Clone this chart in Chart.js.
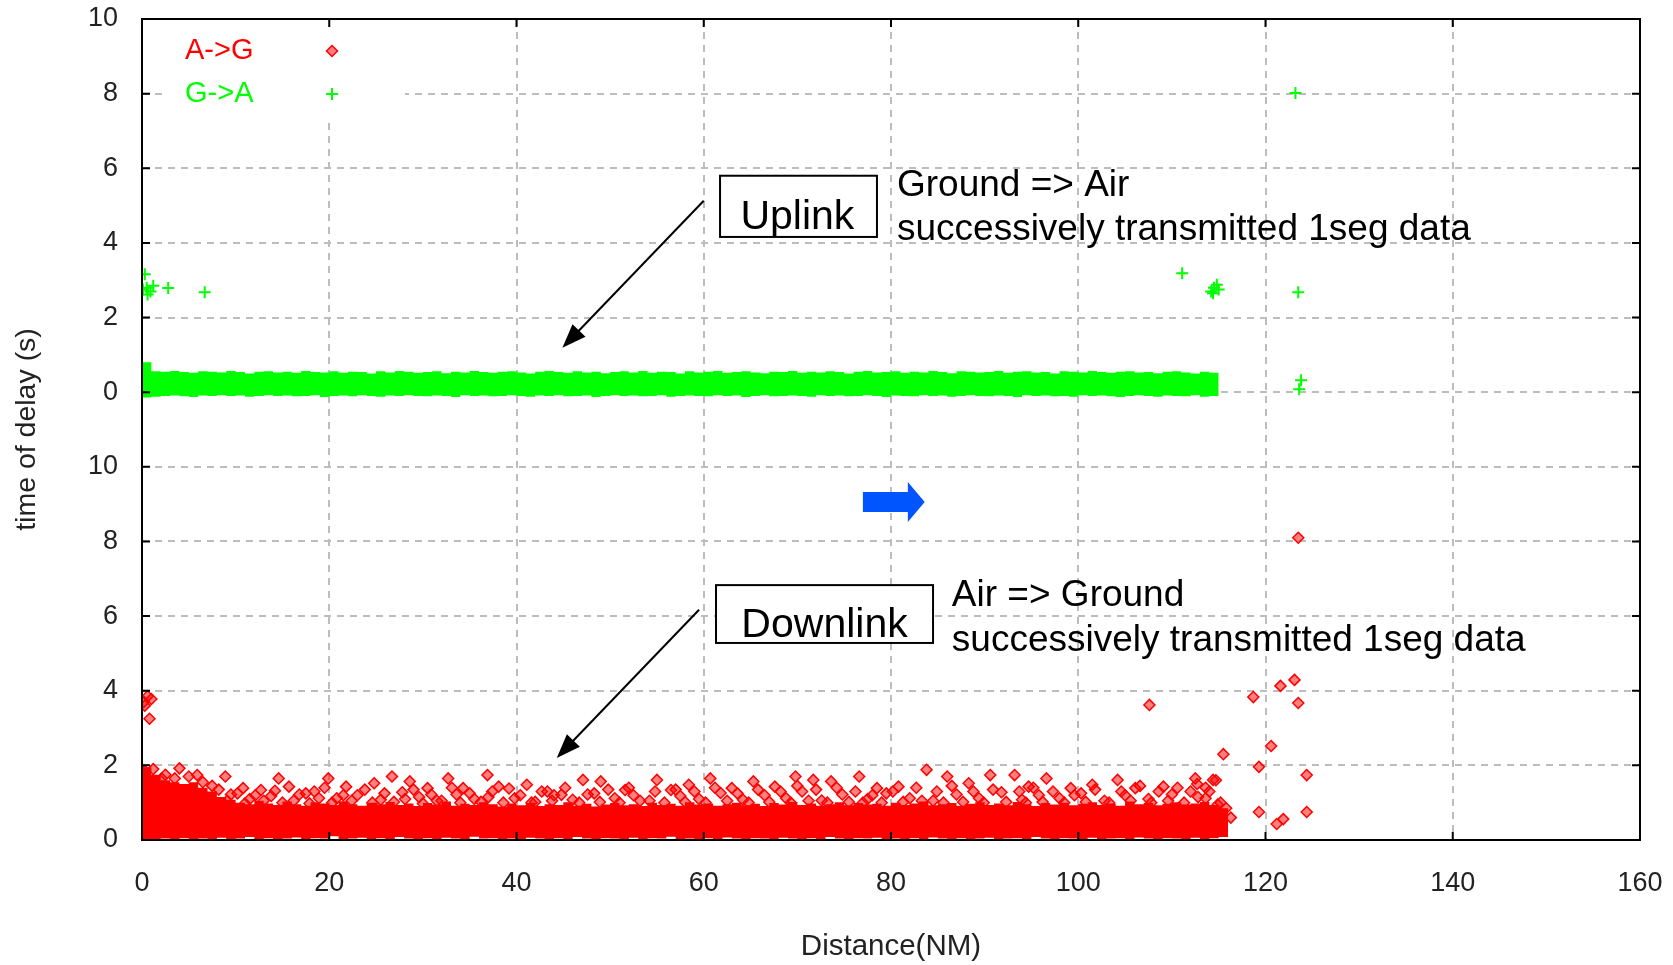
<!DOCTYPE html>
<html lang="en">
<head>
<meta charset="UTF-8">
<title>Delay vs distance</title>
<style>
  body { margin: 0; background: #fff; }
  canvas { display: block; }
</style>
</head>
<body>
<canvas id="delayChart" width="1673" height="965"></canvas>
<script src="https://cdn.jsdelivr.net/npm/chart.js"></script>
<script>
// ---- data ----
// distance samples (NM) used for the envelopes of the two dense clouds
const bandX = [0,1,2,3,4,5,6,7,8,9,10,11,12,13,14,15,16,17,18,19,20,21,22,23,24,25,26,27,28,29,
  30,31,32,33,34,35,36,37,38,39,40,41,42,43,44,45,46,47,48,49,50,51,52,53,54,55,56,57,58,59,
  60,61,62,63,64,65,66,67,68,69,70,71,72,73,74,75,76,77,78,79,80,81,82,83,84,85,86,87,88,89,
  90,91,92,93,94,95,96,97,98,99,100,101,102,103,104,105,106,107,108,109,110,111,112,113,114,115,116];

// G->A (uplink) dense cloud: upper / lower edge, seconds (upper panel)
const gaTop = [0.80,0.56,0.55,0.57,0.54,0.52,0.56,0.55,0.53,0.57,
  0.54,0.50,0.55,0.56,0.53,0.55,0.52,0.57,0.54,0.53,
  0.56,0.52,0.55,0.54,0.50,0.56,0.53,0.57,0.55,0.52,
  0.54,0.56,0.51,0.55,0.53,0.57,0.54,0.52,0.55,0.56,
  0.53,0.50,0.55,0.57,0.54,0.52,0.56,0.53,0.55,0.51,
  0.54,0.56,0.53,0.57,0.52,0.55,0.54,0.50,0.56,0.53,
  0.55,0.57,0.52,0.54,0.56,0.53,0.51,0.55,0.54,0.57,
  0.52,0.55,0.53,0.56,0.54,0.50,0.55,0.57,0.53,0.54,
  0.56,0.52,0.55,0.53,0.57,0.54,0.51,0.56,0.55,0.53,
  0.54,0.57,0.52,0.55,0.56,0.53,0.54,0.50,0.56,0.55,
  0.53,0.57,0.54,0.52,0.55,0.56,0.53,0.54,0.51,0.55,
  0.56,0.53,0.50,0.55,0.52,0.49, null];
const gaBottom = [-0.14,-0.12,-0.10,-0.09,-0.11,-0.13,-0.09,-0.10,-0.08,-0.10,
  -0.09,-0.12,-0.10,-0.08,-0.10,-0.09,-0.11,-0.10,-0.08,-0.13,
  -0.10,-0.09,-0.11,-0.08,-0.10,-0.12,-0.09,-0.10,-0.08,-0.10,
  -0.11,-0.09,-0.10,-0.13,-0.08,-0.10,-0.09,-0.11,-0.10,-0.08,
  -0.10,-0.12,-0.09,-0.10,-0.08,-0.11,-0.10,-0.09,-0.13,-0.10,
  -0.08,-0.10,-0.09,-0.11,-0.10,-0.08,-0.12,-0.10,-0.09,-0.10,
  -0.11,-0.08,-0.10,-0.09,-0.13,-0.10,-0.08,-0.11,-0.10,-0.09,
  -0.10,-0.12,-0.08,-0.10,-0.09,-0.11,-0.10,-0.08,-0.10,-0.13,
  -0.09,-0.10,-0.11,-0.08,-0.10,-0.09,-0.12,-0.10,-0.08,-0.10,
  -0.11,-0.09,-0.10,-0.13,-0.08,-0.10,-0.09,-0.11,-0.10,-0.12,
  -0.08,-0.10,-0.09,-0.11,-0.13,-0.10,-0.08,-0.10,-0.12,-0.09,
  -0.10,-0.11,-0.08,-0.12,-0.10,-0.09, null];

// A->G (downlink) dense cloud: upper / lower edge, seconds (lower panel)
const agTop = [1.95,1.75,1.60,1.55,1.50,1.55,1.40,1.30,1.15,1.08,
  1.00,0.96,1.05,0.98,0.94,1.03,0.96,0.92,1.01,0.98,
  0.94,1.04,0.96,0.92,1.00,0.96,1.02,0.94,0.98,0.91,
  0.99,0.95,1.03,0.92,0.97,0.94,1.01,0.96,0.90,0.98,
  0.93,0.99,0.91,0.96,0.94,1.01,0.92,0.97,0.90,0.95,
  0.99,0.93,0.96,0.91,1.00,0.94,0.97,0.92,1.01,0.95,
  0.98,0.92,0.96,1.00,0.93,0.97,0.91,0.99,0.95,1.02,
  0.94,0.98,0.92,0.96,1.01,0.93,0.99,0.95,0.97,0.92,
  1.00,0.94,0.98,1.03,0.93,0.96,0.99,0.92,0.97,1.01,
  0.94,0.98,0.93,1.02,0.96,0.91,0.99,0.95,1.00,0.93,
  0.97,1.01,0.94,0.98,0.92,1.03,0.96,0.99,0.93,0.97,
  1.01,0.95,0.98,1.02,0.94,0.85,0.68];
const agBottom = [0.03,0.02,0.04,0.03,0.05,0.02,0.04,0.03,0.06,0.03,
  0.04,0.08,0.03,0.05,0.02,0.04,0.07,0.03,0.05,0.04,
  0.10,0.03,0.04,0.06,0.02,0.05,0.03,0.08,0.04,0.03,
  0.05,0.02,0.06,0.04,0.03,0.09,0.04,0.05,0.02,0.04,
  0.03,0.06,0.04,0.02,0.05,0.03,0.08,0.04,0.03,0.05,
  0.04,0.02,0.06,0.03,0.05,0.04,0.09,0.03,0.04,0.02,
  0.05,0.03,0.07,0.04,0.02,0.05,0.04,0.03,0.06,0.04,
  0.03,0.05,0.02,0.08,0.04,0.03,0.05,0.04,0.06,0.03,
  0.04,0.02,0.05,0.03,0.07,0.04,0.03,0.05,0.02,0.04,
  0.06,0.03,0.04,0.05,0.02,0.08,0.04,0.03,0.05,0.04,
  0.03,0.06,0.02,0.04,0.05,0.03,0.07,0.04,0.03,0.05,
  0.04,0.02,0.06,0.03,0.05,0.08,0.12];

// single A->G samples outside the solid part of the cloud [NM, s]
const agPoints = [
  [0.3,1.85],[1.2,1.9],[2.5,1.75],[3.5,1.65],[5,1.7],[6.5,1.55],[7.5,1.45],
  [2.1,1.65],[4.0,1.92],[5.9,1.74],[8.9,1.7],[10.8,1.39],[12.7,1.34],[14.6,1.65],[15.7,1.43],
  [18.4,1.3],[19.9,1.65],[21.8,1.43],[24.8,1.52],[26.7,1.7],[28.6,1.57],[30.5,1.39],[32.7,1.65],
  [34.3,1.39],[36.9,1.74],[38.1,1.43],[41.1,1.48],[43.3,1.3],[44.8,1.21],[47.1,1.61],[49.0,1.57],
  [51.6,1.34],[55.0,1.61],[56.5,1.34],[58.4,1.48],[60.7,1.65],[63.0,1.39],[65.3,1.57],[67.6,1.43],
  [69.8,1.7],[71.7,1.61],[73.6,1.57],[76.6,1.7],[78.5,1.39],[80.8,1.43],[83.8,1.88],[86.0,1.7],
  [88.3,1.52],[90.6,1.74],[93.2,1.74],[94.7,1.43],[96.6,1.65],[99.2,1.39],[101.5,1.48],[104.2,1.61],
  [106.1,1.39],[109.1,1.43],[112.5,1.65],[114.4,1.61],
  [9.5,1.22],[11.5,1.1],[13.8,1.18],[16.2,1.05],[17.5,1.25],[20.8,1.12],[23,1.2],[25.5,1.08],
  [27.8,1.28],[29.6,1.15],[31.5,1.05],[33.6,1.22],[35.5,1.1],[37.4,1.3],[39.8,1.12],[42,1.02],
  [44,1.2],[46,1.08],[48.3,1.25],[50.5,1.12],[52.5,1.2],[54.2,1.05],[57.5,1.18],[59.5,1.1],
  [61.8,1.26],[64.2,1.08],[66.5,1.2],[68.8,1.12],[70.5,1.3],[72.6,1.06],[74.8,1.22],[77.5,1.1],
  [79.5,1.25],[82,1.12],[84.5,1.05],[87,1.22],[89.4,1.12],[91.8,1.28],[94,1.08],[95.8,1.2],
  [98,1.12],[100.3,1.25],[102.8,1.05],[105,1.2],[107.5,1.1],[110,1.22],[112,1.3],[113.6,1.12],[115.2,1.0],
  [8.2,1.35],[9.1,1.05],[10.2,1.25],[11.0,0.98],[12.1,1.2],[13.0,1.05],[14.2,1.32],[15.0,1.0],
  [16.8,1.22],[17.9,0.98],[18.9,1.12],[19.5,1.4],[20.3,1.0],[21.5,1.2],[22.4,1.05],[23.8,1.35],
  [24.6,1.0],[25.9,1.25],[26.9,1.02],[28.1,1.1],[29.0,1.35],[30.0,0.98],[30.9,1.22],[32.0,1.05],
  [33.1,1.4],[34.0,1.0],[35.0,1.25],[36.2,1.02],[37.0,1.15],[38.6,1.0],[39.2,1.38],[40.4,1.2],
  [41.6,1.0],[42.7,1.3],[43.8,1.05],[45.2,1.4],[46.7,1.0],[47.6,1.22],[48.9,1.02],[49.8,1.35],
  [51.0,1.0],[52.0,1.4],[53.2,1.05],[54.8,1.3],[55.8,1.0],[57.0,1.35],[58.0,1.02],[59.0,1.3],
  [60.2,1.0],[61.2,1.4],[62.5,1.05],[63.6,1.25],[64.8,1.0],[65.8,1.35],[67.0,1.02],[68.2,1.3],
  [69.3,1.0],[70.0,1.45],[71.2,1.05],[72.0,1.35],[73.2,1.0],[74.2,1.4],[75.5,1.02],[76.2,1.3],
  [77.0,1.0],[78.0,1.2],[79.0,1.0],[80.2,1.3],[81.3,1.02],[82.7,1.4],[83.3,1.05],[84.9,1.3],
  [85.6,1.0],[86.5,1.45],[87.7,1.02],[88.8,1.3],[89.9,1.0],[90.9,1.35],[92.3,1.02],[93.7,1.3],
  [94.4,1.0],[95.2,1.4],[96.2,1.02],[97.3,1.3],[98.5,1.0],[99.6,1.2],[100.8,1.02],[101.8,1.35],
  [103.3,1.0],[104.6,1.3],[105.6,1.05],[106.6,1.45],[107.8,1.0],[108.6,1.3],[109.6,1.05],[110.6,1.4],
  [111.3,1.0],[112.8,1.15],[114.0,1.3],[114.9,0.95],[115.8,0.85],[116.3,0.6],
  [0.2,3.7],[0.6,3.85],[1.0,3.78],[0.3,3.6],[0.8,3.25],
  [107.6,3.62],[112.7,1.5],[113.6,1.4],[114.7,1.6],[115.5,2.3],[118.7,3.83],[119.3,1.96],
  [120.6,2.52],[119.3,0.75],[121.6,4.13],[123.1,4.29],[123.5,3.67],[124.4,1.74],[124.4,0.75],
  [121.2,0.43],[121.9,0.56],[123.5,8.1]
];

// single G->A samples outside the solid band [NM, s]
const gaPoints = [
  [0.3,3.16],[0.1,2.75],[0.5,2.8],[0.9,2.7],[1.2,2.85],[0.6,2.62],[2.8,2.79],[6.7,2.68],
  [111.1,3.19],[114.2,2.7],[114.5,2.8],[114.8,2.88],[115.0,2.75],[114.4,2.65],
  [123.5,2.68],[123.8,0.32],[123.6,0.08],[123.2,8.02]
];

const seriesNames = ['A->G', 'G->A'];
const seriesColors = ['#ff0000', '#00ff00'];

// the upper panel sits 12 units above the lower one on the shared axis
const panelOffset = 12;

const font = "'Liberation Sans', Arial, sans-serif";

function band(vals) {
  const out = [];
  bandX.forEach((x, i) => { if (vals[i] !== null) out.push({x: x, y: vals[i]}); });
  return out;
}

// annotation layout, in data units (x: NM, y: shared axis units)
const notes = {
  up:   {box: [61.74, 17.80, 78.5, 16.16], label: 'Uplink', lx: 70.0, ly: 16.38,
         arrow: [60.0, 17.13, 44.9, 13.19],
         tx: 80.64, lines: ['Ground => Air', 'successively transmitted 1seg data'], ty: [17.27, 16.07]},
  down: {box: [61.31, 6.83, 84.49, 5.28], label: 'Downlink', lx: 72.9, ly: 5.44,
         arrow: [59.5, 6.17, 44.3, 2.2],
         tx: 86.5, lines: ['Air => Ground', 'successively transmitted 1seg data'], ty: [6.27, 5.07]}
};

function drawArrow(ctx, x1, y1, x2, y2) {
  const a = Math.atan2(y2 - y1, x2 - x1);
  const head = 24, half = 9;
  ctx.beginPath();
  ctx.moveTo(x1, y1);
  ctx.lineTo(x2 - head * 0.8 * Math.cos(a), y2 - head * 0.8 * Math.sin(a));
  ctx.stroke();
  ctx.beginPath();
  ctx.moveTo(x2, y2);
  ctx.lineTo(x2 - head * Math.cos(a) + half * Math.sin(a), y2 - head * Math.sin(a) - half * Math.cos(a));
  ctx.lineTo(x2 - head * Math.cos(a) - half * Math.sin(a), y2 - head * Math.sin(a) + half * Math.cos(a));
  ctx.closePath();
  ctx.fill();
}

const decor = {
  id: 'decor',
  beforeDatasetsDraw(chart) {
    // key area is blanked like gnuplot does
    const {ctx, chartArea} = chart;
    ctx.save();
    ctx.fillStyle = '#fff';
    ctx.fillRect(chartArea.left + 23, chartArea.top + 1, 240, 100);
    ctx.restore();
  },
  afterDraw(chart) {
    const {ctx, chartArea: ca} = chart;
    const sx = chart.scales.x, sy = chart.scales.y;
    const px = v => sx.getPixelForValue(v), py = v => sy.getPixelForValue(v);
    ctx.save();

    // frame and inward ticks
    ctx.strokeStyle = '#000';
    ctx.lineWidth = 2;
    ctx.strokeRect(ca.left, ca.top, ca.right - ca.left, ca.bottom - ca.top);
    ctx.beginPath();
    sx.ticks.forEach(t => {
      const x = px(t.value);
      ctx.moveTo(x, ca.bottom); ctx.lineTo(x, ca.bottom - 8);
      ctx.moveTo(x, ca.top); ctx.lineTo(x, ca.top + 8);
    });
    sy.ticks.forEach(t => {
      const y = py(t.value);
      ctx.moveTo(ca.left, y); ctx.lineTo(ca.left + 8, y);
      ctx.moveTo(ca.right, y); ctx.lineTo(ca.right - 8, y);
    });
    ctx.stroke();

    // key
    ctx.font = '29px ' + font;
    ctx.textBaseline = 'middle';
    ctx.textAlign = 'left';
    const keyY = [51, 94];
    seriesNames.forEach((name, i) => {
      ctx.fillStyle = seriesColors[i];
      ctx.fillText(name, ca.left + 43, keyY[i]);
    });
    const kx = ca.left + 190;
    ctx.fillStyle = 'rgba(255,0,0,0.5)';
    ctx.strokeStyle = '#ff0000';
    ctx.lineWidth = 1.5;
    ctx.beginPath();
    ctx.moveTo(kx - 5.5, keyY[0]); ctx.lineTo(kx, keyY[0] - 5.5);
    ctx.lineTo(kx + 5.5, keyY[0]); ctx.lineTo(kx, keyY[0] + 5.5);
    ctx.closePath(); ctx.fill(); ctx.stroke();
    ctx.strokeStyle = '#00ff00';
    ctx.lineWidth = 2;
    ctx.beginPath();
    ctx.moveTo(kx - 6, keyY[1]); ctx.lineTo(kx + 6, keyY[1]);
    ctx.moveTo(kx, keyY[1] - 6); ctx.lineTo(kx, keyY[1] + 6);
    ctx.stroke();

    // labelled boxes, arrows and captions
    Object.values(notes).forEach(n => {
      const [bx1, by1, bx2, by2] = n.box;
      ctx.fillStyle = '#fff';
      ctx.fillRect(px(bx1), py(by1), px(bx2) - px(bx1), py(by2) - py(by1));
      ctx.strokeStyle = '#000';
      ctx.lineWidth = 2;
      ctx.strokeRect(px(bx1), py(by1), px(bx2) - px(bx1), py(by2) - py(by1));
      ctx.fillStyle = '#000';
      ctx.font = '41px ' + font;
      ctx.textAlign = 'center';
      ctx.textBaseline = 'alphabetic';
      ctx.fillText(n.label, px(n.lx), py(n.ly));
      ctx.font = '37px ' + font;
      ctx.textAlign = 'left';
      n.lines.forEach((s, i) => ctx.fillText(s, px(n.tx), py(n.ty[i])));
      const [ax1, ay1, ax2, ay2] = n.arrow;
      ctx.lineWidth = 2;
      drawArrow(ctx, px(ax1), py(ay1), px(ax2), py(ay2));
    });

    // blue block arrow between the panels
    const bx0 = px(77.0), bxh = px(81.8), bx1 = px(83.6);
    const yc = py(9.06);
    ctx.fillStyle = '#0055ff';
    ctx.beginPath();
    ctx.moveTo(bx0, yc - 10); ctx.lineTo(bxh, yc - 10); ctx.lineTo(bxh, yc - 20);
    ctx.lineTo(bx1, yc); ctx.lineTo(bxh, yc + 20); ctx.lineTo(bxh, yc + 10);
    ctx.lineTo(bx0, yc + 10);
    ctx.closePath();
    ctx.fill();
    ctx.restore();
  }
};

const gridStyle = {color: '#bdbdbd', lineWidth: 2, drawTicks: false};
const borderStyle = {display: false, dash: [7, 6]};

new Chart(document.getElementById('delayChart'), {
  type: 'scatter',
  data: {
    datasets: [
      {type: 'line', label: 'A->G band', data: band(agTop), yAxisID: 'y', stepped: true,
       fill: '+1', backgroundColor: seriesColors[0], borderWidth: 0, pointRadius: 0, order: 10},
      {type: 'line', label: 'A->G band low', data: band(agBottom), yAxisID: 'y', stepped: true,
       fill: false, borderWidth: 0, pointRadius: 0, order: 10},
      {type: 'line', label: 'G->A band', data: band(gaTop), yAxisID: 'yUp', stepped: true,
       fill: '+1', backgroundColor: seriesColors[1], borderWidth: 0, pointRadius: 0, order: 10},
      {type: 'line', label: 'G->A band low', data: band(gaBottom), yAxisID: 'yUp', stepped: true,
       fill: false, borderWidth: 0, pointRadius: 0, order: 10},
      {label: seriesNames[0], data: agPoints.map(p => ({x: p[0], y: p[1]})), yAxisID: 'y',
       pointStyle: 'rectRot', pointRadius: 5.5, backgroundColor: 'rgba(255,0,0,0.5)',
       borderColor: seriesColors[0], borderWidth: 1.5, order: 1},
      {label: seriesNames[1], data: gaPoints.map(p => ({x: p[0], y: p[1]})), yAxisID: 'yUp',
       pointStyle: 'cross', pointRadius: 6, borderColor: seriesColors[1], borderWidth: 2, order: 1}
    ]
  },
  options: {
    responsive: false,
    animation: false,
    devicePixelRatio: 1,
    layout: {padding: 0},
    plugins: {legend: {display: false}, tooltip: {enabled: false}},
    scales: {
      x: {
        type: 'linear', min: 0, max: 160,
        grid: gridStyle, border: borderStyle,
        ticks: {stepSize: 20, padding: 27, maxRotation: 0, color: '#222', font: {family: font, size: 27}},
        title: {display: true, text: 'Distance(NM)', color: '#222', font: {family: font, size: 29.5},
                padding: {top: 0, bottom: 0}},
        afterFit: s => { s.height = 125; s.paddingLeft = 0; s.paddingRight = 33; }
      },
      y: {
        min: 0, max: 22,
        grid: gridStyle, border: borderStyle,
        ticks: {stepSize: 2, padding: 24, autoSkip: false, color: '#222', font: {family: font, size: 27},
                callback: v => (v > 10 ? v - panelOffset : v)},
        title: {display: true, text: 'time of delay (s)', color: '#222', font: {family: font, size: 28.5},
                padding: {top: 10, bottom: 0}},
        afterFit: s => { s.width = 142; s.paddingTop = 19; s.paddingBottom = 0; }
      },
      yUp: {
        display: false, min: -panelOffset, max: 10
      }
    }
  },
  plugins: [decor]
});
</script>
</body>
</html>
